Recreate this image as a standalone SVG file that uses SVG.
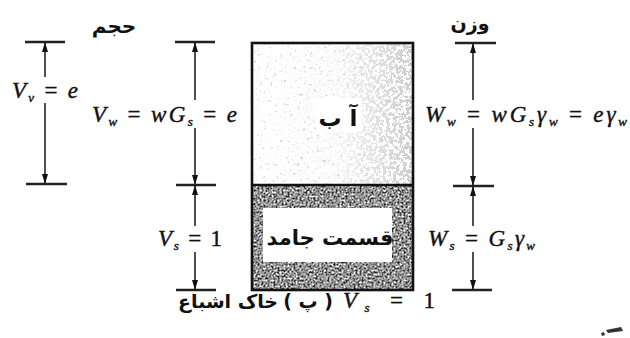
<svg xmlns="http://www.w3.org/2000/svg" width="630" height="338" viewBox="0 0 630 338">
<style>
  .m { font-family: "Liberation Serif", "Times New Roman", serif; font-size: 23px; fill: #111; stroke: #111; stroke-width: 0.4; }
  .i { font-style: italic; }
  .sub { font-size: 13px; }
  .ar { font-family: "DejaVu Sans", "Noto Sans", sans-serif; font-weight: bold; fill: #111; }
  .tick { stroke: #222; stroke-width: 2.6; fill: none; }
  .dim { stroke: #222; stroke-width: 1.6; fill: none; }
  .up { marker-start: url(#arr); }
  .down { marker-end: url(#arr); }
</style>
<defs>
  <marker id="arr" viewBox="0 0 10 6" refX="10" refY="3" markerWidth="10" markerHeight="6" markerUnits="userSpaceOnUse" orient="auto-start-reverse">
    <path d="M0,0 L10,3 L0,6 z" fill="#111"/>
  </marker>
  <filter id="speck" x="0" y="0" width="1" height="1">
    <feTurbulence type="fractalNoise" baseFrequency="0.3" numOctaves="2" seed="5" result="n"/>
    <feColorMatrix in="n" type="matrix" values="0 0 0 0 0.64  0 0 0 0 0.64  0 0 0 0 0.64  1 0 0 0 0"/>
    <feComponentTransfer><feFuncA type="discrete" tableValues="0 0 0 0 0 0 0 0.6 1 1"/></feComponentTransfer>
    <feComposite in2="SourceGraphic" operator="in"/>
  </filter>
  <filter id="speckDense" x="0" y="0" width="1" height="1">
    <feTurbulence type="fractalNoise" baseFrequency="0.3" numOctaves="2" seed="9" result="n"/>
    <feColorMatrix in="n" type="matrix" values="0 0 0 0 0.6  0 0 0 0 0.6  0 0 0 0 0.6  1 0 0 0 0"/>
    <feComponentTransfer><feFuncA type="discrete" tableValues="0 0 0 0 0 1 1 1 1 1"/></feComponentTransfer>
    <feComposite in2="SourceGraphic" operator="in"/>
  </filter>
  <filter id="solid" x="0" y="0" width="1" height="1">
    <feTurbulence type="fractalNoise" baseFrequency="0.5" numOctaves="2" seed="2"/>
    <feColorMatrix type="matrix" values="1 1 1 0 -1  1 1 1 0 -1  1 1 1 0 -1  0 0 0 0 1"/>
    <feComponentTransfer>
      <feFuncR type="discrete" tableValues="0.02 0.05 0.15 0.3 0.45 0.65 0.92"/>
      <feFuncG type="discrete" tableValues="0.02 0.05 0.15 0.3 0.45 0.65 0.92"/>
      <feFuncB type="discrete" tableValues="0.02 0.05 0.15 0.3 0.45 0.65 0.92"/>
    </feComponentTransfer>
    <feComposite in2="SourceGraphic" operator="in"/>
  </filter>
  <linearGradient id="fadeR" x1="0" y1="0" x2="1" y2="0">
    <stop offset="0" stop-color="#fff" stop-opacity="0"/>
    <stop offset="0.55" stop-color="#fff" stop-opacity="0.15"/>
    <stop offset="1" stop-color="#fff" stop-opacity="1"/>
  </linearGradient>
  <mask id="rightMask" maskUnits="userSpaceOnUse" x="252" y="43" width="161" height="142">
    <rect x="252" y="43" width="161" height="142" fill="url(#fadeR)"/>
  </mask>
</defs>

<rect width="630" height="338" fill="#fff"/>

<g id="water">
  <rect x="252" y="43" width="161" height="142" fill="#fff"/>
  <rect x="252" y="43" width="161" height="142" fill="#000" filter="url(#speck)"/>
  <rect x="252" y="43" width="161" height="142" fill="#000" filter="url(#speckDense)" mask="url(#rightMask)"/>
  <rect x="316" y="98" width="46" height="34" fill="#fff"/>
  <text class="ar" x="338" y="126" font-size="23" text-anchor="middle">آ ب</text>
</g>

<g id="solid-part">
  <rect x="252" y="185" width="161" height="105" fill="#000" filter="url(#solid)"/>
  <rect x="263" y="208" width="129" height="54" fill="#fff"/>
  <text class="ar" x="330" y="245" font-size="21" text-anchor="middle">قسمت جامد</text>
</g>

<g id="box-outline">
  <rect x="252" y="43" width="161" height="247" fill="none" stroke="#111" stroke-width="2.6"/>
  <line x1="252" y1="185" x2="413" y2="185" stroke="#111" stroke-width="2.4"/>
</g>

<g id="connectors">
  <line class="tick" x1="25" y1="42" x2="65" y2="42"/>
  <line class="tick" x1="26" y1="184" x2="67" y2="184"/>
  <line class="dim up" x1="45" y1="42" x2="45" y2="77"/>
  <line class="dim down" x1="45" y1="103" x2="45" y2="184"/>

  <line class="tick" x1="175" y1="42" x2="215" y2="42"/>
  <line class="tick" x1="176" y1="185" x2="216" y2="185"/>
  <line class="tick" x1="176" y1="290" x2="216" y2="290"/>
  <line class="dim up" x1="195" y1="42" x2="195" y2="100"/>
  <line class="dim down" x1="195" y1="128" x2="195" y2="185"/>
  <line class="dim up" x1="195" y1="185" x2="195" y2="226"/>
  <line class="dim down" x1="195" y1="252" x2="195" y2="290"/>

  <line class="tick" x1="455" y1="43" x2="496" y2="43"/>
  <line class="tick" x1="453" y1="186" x2="494" y2="186"/>
  <line class="tick" x1="452" y1="290" x2="492" y2="290"/>
  <line class="dim up" x1="473" y1="43" x2="473" y2="100"/>
  <line class="dim down" x1="473" y1="128" x2="473" y2="186"/>
  <line class="dim up" x1="473" y1="186" x2="473" y2="226"/>
  <line class="dim down" x1="473" y1="252" x2="473" y2="290"/>
</g>

<g id="volume-labels">
  <text class="ar" x="114" y="33" font-size="20" text-anchor="middle">حجم</text>
  <text class="m" x="12" y="98" textLength="66" lengthAdjust="spacing"><tspan class="i">V</tspan><tspan class="i sub" dy="4">v</tspan><tspan dy="-4"> = </tspan><tspan class="i">e</tspan></text>
  <text class="m" x="92" y="122" textLength="145" lengthAdjust="spacing"><tspan class="i">V</tspan><tspan class="i sub" dy="4">w</tspan><tspan dy="-4"> = </tspan><tspan class="i">wG</tspan><tspan class="i sub" dy="4">s</tspan><tspan dy="-4"> = </tspan><tspan class="i">e</tspan></text>
  <text class="m" x="158" y="246" textLength="64" lengthAdjust="spacing"><tspan class="i">V</tspan><tspan class="i sub" dy="4">s</tspan><tspan dy="-4"> = 1</tspan></text>
</g>

<g id="weight-labels">
  <text class="ar" x="470" y="30" font-size="19" text-anchor="middle">وزن</text>
  <text class="m" x="425" y="122" textLength="202" lengthAdjust="spacing"><tspan class="i">W</tspan><tspan class="i sub" dy="4">w</tspan><tspan dy="-4"> = </tspan><tspan class="i">wG</tspan><tspan class="i sub" dy="4">s</tspan><tspan class="i" dy="-4">γ</tspan><tspan class="i sub" dy="4">w</tspan><tspan dy="-4"> = </tspan><tspan class="i">eγ</tspan><tspan class="i sub" dy="4">w</tspan></text>
  <text class="m" x="428" y="246" textLength="107" lengthAdjust="spacing"><tspan class="i">W</tspan><tspan class="i sub" dy="4">s</tspan><tspan dy="-4"> = </tspan><tspan class="i">G</tspan><tspan class="i sub" dy="4">s</tspan><tspan class="i" dy="-4">γ</tspan><tspan class="i sub" dy="4">w</tspan></text>
</g>

<g id="caption">
  <text class="ar" x="278" y="308" font-size="19" text-anchor="end">خاک اشباع</text>
  <text class="ar" x="308" y="308" font-size="19" text-anchor="middle">( پ )</text>
  <text class="m" x="343" y="308" textLength="92" lengthAdjust="spacing"><tspan class="i">V</tspan><tspan class="i sub" dy="4">s</tspan><tspan dy="-4"> = 1</tspan></text>
</g>

<path d="M606,330 L621,327 L623,331 L608,333 Z M601,333 L604,332 L605,335 L602,336 Z" fill="#333"/>
</svg>
